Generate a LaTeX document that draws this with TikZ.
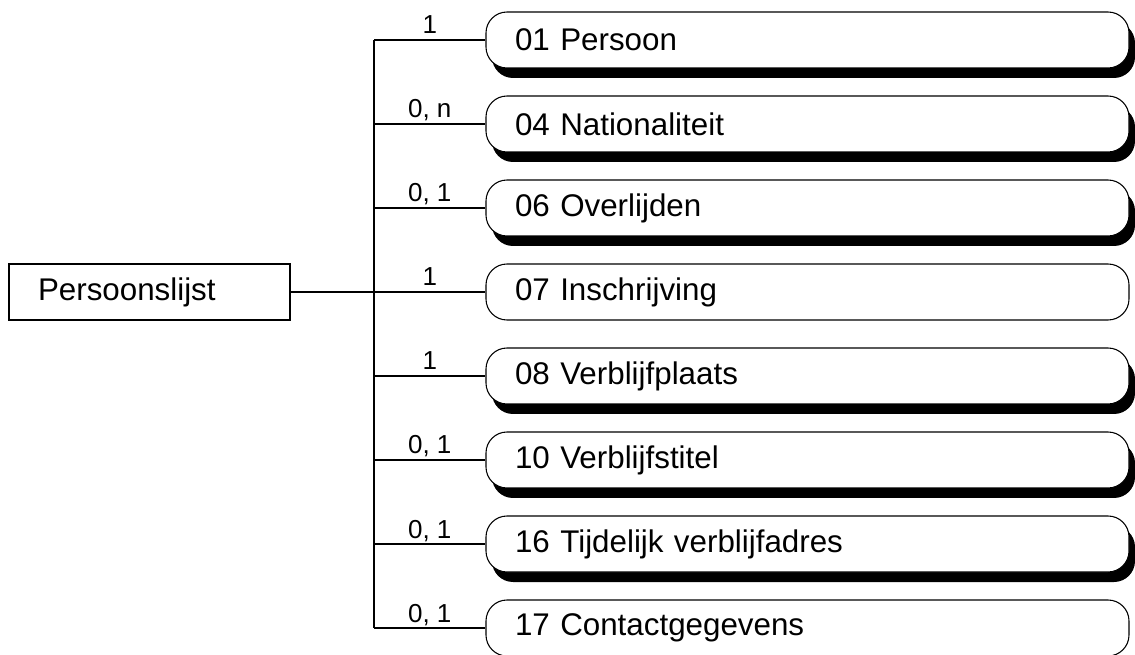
\documentclass[tikz,border=0pt]{standalone}
\usepackage{fontspec}
\setmainfont{Liberation Sans}
\usetikzlibrary{shadows}
\begin{document}
\begin{tikzpicture}[x=0.75pt,y=-0.75pt,line width=0.8pt,
  pillbase/.style={draw=black,fill=white,rounded corners=15.75pt,
    text width=438.75pt,align=left,inner xsep=21.75pt,inner ysep=0pt,
    minimum height=42pt,font=\fontsize{23.5pt}{28pt}\selectfont},
  pill/.style={pillbase,drop shadow={shadow xshift=4.5pt,shadow yshift=-7.5pt,opacity=1,fill=black}},
  rootbox/.style={draw=black,fill=white,text width=167.25pt,align=left,
    inner xsep=21.75pt,inner ysep=0pt,minimum height=42pt,
    font=\fontsize{23.5pt}{28pt}\selectfont},
  card/.style={anchor=base,yshift=4.5pt,inner sep=0pt,font=\fontsize{19.5pt}{23pt}\selectfont}]
\useasboundingbox (0,0) rectangle (1135,655);
\node[rootbox] (root) at (149.5,292) {Persoonslijst};
\coordinate (bustop) at (374,40);
\coordinate (busbot) at (374,628);
\node[pill] (n01) at (807.5,40) {01 Persoon};
\node[pill] (n04) at (807.5,124) {04 Nationaliteit};
\node[pill] (n06) at (807.5,208) {06 Overlijden};
\node[pillbase] (n07) at (807.5,292) {07 Inschrijving};
\node[pill] (n08) at (807.5,376) {08 Verblijfplaats};
\node[pill] (n10) at (807.5,460) {10 Verblijfstitel};
\node[pill] (n16) at (807.5,544) {16 Tijdelijk verblijfadres};
\node[pillbase] (n17) at (807.5,628) {17 Contactgegevens};
\draw (bustop) -- (busbot);
\draw (root.east) -- (root.east -| bustop);
\draw (n01.west -| bustop) -- node[card] {1} (n01.west);
\draw (n04.west -| bustop) -- node[card] {0, n} (n04.west);
\draw (n06.west -| bustop) -- node[card] {0, 1} (n06.west);
\draw (n07.west -| bustop) -- node[card] {1} (n07.west);
\draw (n08.west -| bustop) -- node[card] {1} (n08.west);
\draw (n10.west -| bustop) -- node[card] {0, 1} (n10.west);
\draw (n16.west -| bustop) -- node[card] {0, 1} (n16.west);
\draw (n17.west -| bustop) -- node[card] {0, 1} (n17.west);
\end{tikzpicture}
\end{document}
